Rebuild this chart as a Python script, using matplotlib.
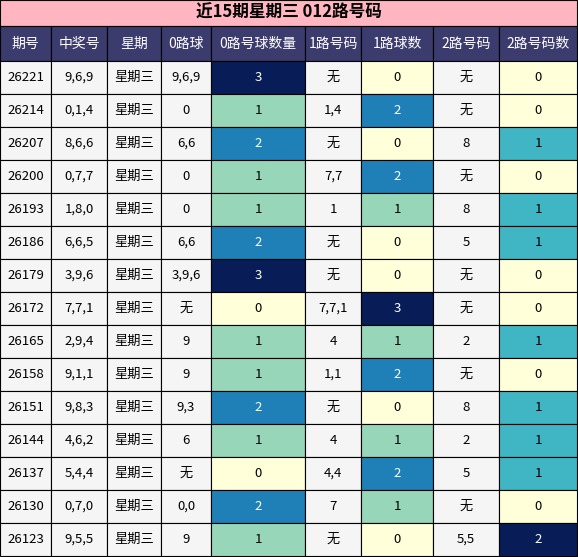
import matplotlib
matplotlib.use("Agg")
import matplotlib.pyplot as plt
from matplotlib.patches import Rectangle
import matplotlib.colors as mcolors

plt.rcParams['font.family'] = ['Noto Sans CJK SC', 'DejaVu Sans']

title = "近15期星期三 012路号码"
headers = ["期号", "中奖号", "星期", "0路球", "0路号球数量", "1路号码", "1路球数", "2路号码", "2路号码数"]
issues = ["26221","26214","26207","26200","26193","26186","26179","26172","26165","26158","26151","26144","26137","26130","26123"]
numbers = ["9,6,9","0,1,4","8,6,6","0,7,7","1,8,0","6,6,5","3,9,6","7,7,1","2,9,4","9,1,1","9,8,3","4,6,2","5,4,4","0,7,0","9,5,5"]
weekday = ["星期三"] * 15
road0 = ["9,6,9","0","6,6","0","0","6,6","3,9,6","无","9","9","9,3","6","无","0,0","9"]
cnt0 = [3,1,2,1,1,2,3,0,1,1,2,1,0,2,1]
road1 = ["无","1,4","无","7,7","1","无","无","7,7,1","4","1,1","无","4","4,4","7","无"]
cnt1 = [0,2,0,2,1,0,0,3,1,2,0,1,2,1,0]
road2 = ["无","无","8","无","8","5","无","无","2","无","8","2","5","无","5,5"]
cnt2 = [0,0,1,0,1,1,0,0,1,0,1,1,1,0,2]

W, H = 578, 557
fig = plt.figure(figsize=(W/100, H/100), dpi=100)
ax = fig.add_axes([0, 0, 1, 1])
ax.set_xlim(0, W); ax.set_ylim(H, 0); ax.axis('off')

xs = [0, 51, 107, 161, 211, 305, 361, 433, 499, 577]
title_h, head_h = 26, 35
row_h = (H - 1 - title_h - head_h) / 15
cmap = plt.get_cmap('YlGnBu')
lw = 0.8

ax.add_patch(Rectangle((0, 0), W-1, title_h, facecolor='#ffb6c1', edgecolor='black', lw=lw))
ax.text(W/2, title_h/2, title, ha='center', va='center', fontsize=12, fontweight='bold')

y0 = title_h
for i, h in enumerate(headers):
    ax.add_patch(Rectangle((xs[i], y0), xs[i+1]-xs[i], head_h, facecolor='#3b3b6d', edgecolor='black', lw=lw))
    ax.text((xs[i]+xs[i+1])/2, y0+head_h/2, h, ha='center', va='center', fontsize=10, color='white')

cols = [issues, numbers, weekday, road0, cnt0, road1, cnt1, road2, cnt2]
count_cols = {4: max(cnt0), 6: max(cnt1), 8: max(cnt2)}
for r in range(15):
    y = title_h + head_h + r*row_h
    for c in range(9):
        v = cols[c][r]
        tc = 'black'
        if c in count_cols:
            val = v / count_cols[c]
            fc = mcolors.to_hex(cmap(val))
            if val > 0.6:
                tc = 'white'
        else:
            fc = '#f5f5f5'
        ax.add_patch(Rectangle((xs[c], y), xs[c+1]-xs[c], row_h, facecolor=fc, edgecolor='black', lw=lw))
        ax.text((xs[c]+xs[c+1])/2, y+row_h/2, str(v), ha='center', va='center', fontsize=9.5, color=tc)

fig.savefig("out.png", dpi=100)
